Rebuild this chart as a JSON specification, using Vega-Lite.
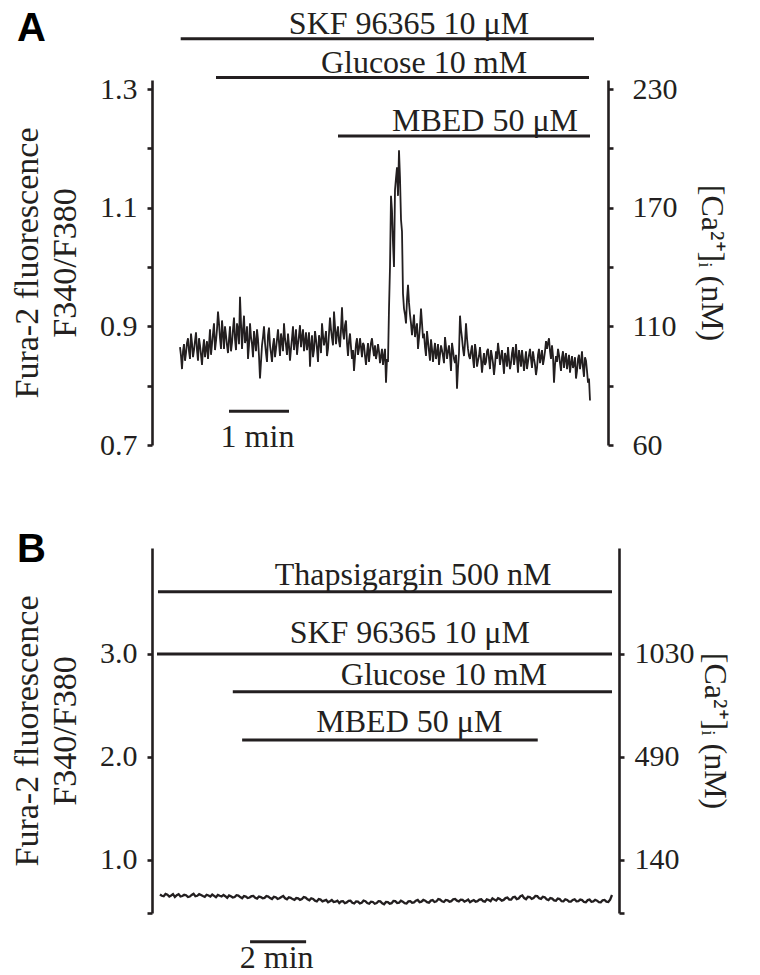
{
  "$schema": "https://vega.github.io/schema/vega-lite/v6.json",
  "background": "white",
  "padding": {"left": 10, "top": 7, "right": 5, "bottom": 5},
  "spacing": 70,
  "config": {
    "view": {"stroke": null},
    "font": "Liberation Serif",
    "axis": {
      "grid": false,
      "domainColor": "#231f20",
      "domainWidth": 2.6,
      "tickColor": "#231f20",
      "tickWidth": 2.6,
      "tickSize": 5,
      "labelFont": "Liberation Serif",
      "labelFontSize": 30,
      "labelColor": "#231f20",
      "labelFlush": false,
      "labelOverlap": false,
      "labelBaseline": "middle",
      "titleFont": "Liberation Serif",
      "titleFontWeight": "normal",
      "titleColor": "#231f20"
    }
  },
  "datasets": {
    "traceA": [
      {"t":28,"v":0.865},{"t":29,"v":0.850},{"t":30,"v":0.828},{"t":31,"v":0.858},{"t":32,"v":0.870},{"t":33,"v":0.842},{"t":34,"v":0.855},{"t":35,"v":0.872},{"t":36,"v":0.880},{"t":37,"v":0.858},
      {"t":38,"v":0.845},{"t":39,"v":0.888},{"t":40,"v":0.872},{"t":41,"v":0.848},{"t":42,"v":0.860},{"t":43,"v":0.875},{"t":44,"v":0.890},{"t":45,"v":0.860},{"t":46,"v":0.842},{"t":47,"v":0.880},
      {"t":48,"v":0.868},{"t":49,"v":0.852},{"t":50,"v":0.835},{"t":51,"v":0.862},{"t":52,"v":0.878},{"t":53,"v":0.848},{"t":54,"v":0.862},{"t":55,"v":0.875},{"t":56,"v":0.845},{"t":57,"v":0.868},
      {"t":58,"v":0.895},{"t":59,"v":0.852},{"t":60,"v":0.870},{"t":61,"v":0.888},{"t":62,"v":0.905},{"t":63,"v":0.860},{"t":64,"v":0.875},{"t":65,"v":0.895},{"t":66,"v":0.925},{"t":67,"v":0.905},
      {"t":68,"v":0.880},{"t":69,"v":0.862},{"t":70,"v":0.910},{"t":71,"v":0.888},{"t":72,"v":0.862},{"t":73,"v":0.900},{"t":74,"v":0.885},{"t":75,"v":0.868},{"t":76,"v":0.855},{"t":77,"v":0.878},
      {"t":78,"v":0.900},{"t":79,"v":0.858},{"t":80,"v":0.872},{"t":81,"v":0.895},{"t":82,"v":0.915},{"t":83,"v":0.878},{"t":84,"v":0.860},{"t":85,"v":0.905},{"t":86,"v":0.895},{"t":87,"v":0.870},
      {"t":88,"v":0.950},{"t":89,"v":0.905},{"t":90,"v":0.862},{"t":91,"v":0.895},{"t":92,"v":0.918},{"t":93,"v":0.872},{"t":94,"v":0.880},{"t":95,"v":0.900},{"t":96,"v":0.845},{"t":97,"v":0.868},
      {"t":98,"v":0.905},{"t":99,"v":0.882},{"t":100,"v":0.870},{"t":101,"v":0.848},{"t":102,"v":0.892},{"t":103,"v":0.875},{"t":104,"v":0.858},{"t":105,"v":0.895},{"t":106,"v":0.878},{"t":107,"v":0.850},
      {"t":108,"v":0.812},{"t":109,"v":0.840},{"t":110,"v":0.868},{"t":111,"v":0.882},{"t":112,"v":0.900},{"t":113,"v":0.872},{"t":114,"v":0.855},{"t":115,"v":0.840},{"t":116,"v":0.885},{"t":117,"v":0.898},
      {"t":118,"v":0.868},{"t":119,"v":0.855},{"t":120,"v":0.840},{"t":121,"v":0.868},{"t":122,"v":0.880},{"t":123,"v":0.848},{"t":124,"v":0.862},{"t":125,"v":0.878},{"t":126,"v":0.895},{"t":127,"v":0.872},
      {"t":128,"v":0.850},{"t":129,"v":0.888},{"t":130,"v":0.875},{"t":131,"v":0.858},{"t":132,"v":0.905},{"t":133,"v":0.880},{"t":134,"v":0.868},{"t":135,"v":0.852},{"t":136,"v":0.888},{"t":137,"v":0.868},
      {"t":138,"v":0.842},{"t":139,"v":0.862},{"t":140,"v":0.880},{"t":141,"v":0.900},{"t":142,"v":0.860},{"t":143,"v":0.875},{"t":144,"v":0.895},{"t":145,"v":0.852},{"t":146,"v":0.870},{"t":147,"v":0.885},
      {"t":148,"v":0.902},{"t":149,"v":0.865},{"t":150,"v":0.882},{"t":151,"v":0.895},{"t":152,"v":0.858},{"t":153,"v":0.875},{"t":154,"v":0.890},{"t":155,"v":0.860},{"t":156,"v":0.872},{"t":157,"v":0.890},
      {"t":158,"v":0.832},{"t":159,"v":0.868},{"t":160,"v":0.885},{"t":161,"v":0.848},{"t":162,"v":0.860},{"t":163,"v":0.892},{"t":164,"v":0.878},{"t":165,"v":0.862},{"t":166,"v":0.840},{"t":167,"v":0.885},
      {"t":168,"v":0.875},{"t":169,"v":0.855},{"t":170,"v":0.905},{"t":171,"v":0.885},{"t":172,"v":0.868},{"t":173,"v":0.878},{"t":174,"v":0.892},{"t":175,"v":0.850},{"t":176,"v":0.862},{"t":177,"v":0.888},
      {"t":178,"v":0.915},{"t":179,"v":0.895},{"t":180,"v":0.880},{"t":181,"v":0.868},{"t":182,"v":0.925},{"t":183,"v":0.900},{"t":184,"v":0.870},{"t":185,"v":0.888},{"t":186,"v":0.900},{"t":187,"v":0.875},
      {"t":188,"v":0.865},{"t":189,"v":0.895},{"t":190,"v":0.932},{"t":191,"v":0.890},{"t":192,"v":0.878},{"t":193,"v":0.902},{"t":194,"v":0.910},{"t":195,"v":0.872},{"t":196,"v":0.850},{"t":197,"v":0.875},
      {"t":198,"v":0.888},{"t":199,"v":0.865},{"t":200,"v":0.845},{"t":201,"v":0.860},{"t":202,"v":0.825},{"t":203,"v":0.848},{"t":204,"v":0.870},{"t":205,"v":0.880},{"t":206,"v":0.852},{"t":207,"v":0.862},
      {"t":208,"v":0.880},{"t":209,"v":0.865},{"t":210,"v":0.848},{"t":211,"v":0.872},{"t":212,"v":0.868},{"t":213,"v":0.850},{"t":214,"v":0.835},{"t":215,"v":0.855},{"t":216,"v":0.872},{"t":217,"v":0.840},
      {"t":218,"v":0.858},{"t":219,"v":0.872},{"t":220,"v":0.880},{"t":221,"v":0.862},{"t":222,"v":0.850},{"t":223,"v":0.868},{"t":224,"v":0.845},{"t":225,"v":0.855},{"t":226,"v":0.870},{"t":227,"v":0.858},
      {"t":228,"v":0.838},{"t":229,"v":0.850},{"t":230,"v":0.862},{"t":231,"v":0.835},{"t":232,"v":0.850},{"t":233,"v":0.862},{"t":234,"v":0.805},{"t":235,"v":0.845},{"t":236,"v":0.840},{"t":237,"v":0.930},
      {"t":238,"v":1.000},{"t":239,"v":1.120},{"t":240,"v":1.095},{"t":241,"v":1.040},{"t":242,"v":1.000},{"t":243,"v":1.130},{"t":244,"v":1.150},{"t":245,"v":1.168},{"t":246,"v":1.120},{"t":247,"v":1.197},
      {"t":248,"v":1.150},{"t":249,"v":1.080},{"t":250,"v":1.060},{"t":251,"v":0.955},{"t":252,"v":0.930},{"t":253,"v":0.920},{"t":254,"v":0.905},{"t":255,"v":0.945},{"t":256,"v":0.970},{"t":257,"v":0.940},
      {"t":258,"v":0.920},{"t":259,"v":0.905},{"t":260,"v":0.885},{"t":261,"v":0.902},{"t":262,"v":0.920},{"t":263,"v":0.882},{"t":264,"v":0.895},{"t":265,"v":0.905},{"t":266,"v":0.862},{"t":267,"v":0.880},
      {"t":268,"v":0.900},{"t":269,"v":0.930},{"t":270,"v":0.905},{"t":271,"v":0.880},{"t":272,"v":0.888},{"t":273,"v":0.865},{"t":274,"v":0.850},{"t":275,"v":0.892},{"t":276,"v":0.875},{"t":277,"v":0.858},
      {"t":278,"v":0.842},{"t":279,"v":0.878},{"t":280,"v":0.862},{"t":281,"v":0.840},{"t":282,"v":0.858},{"t":283,"v":0.872},{"t":284,"v":0.845},{"t":285,"v":0.855},{"t":286,"v":0.870},{"t":287,"v":0.835},
      {"t":288,"v":0.852},{"t":289,"v":0.868},{"t":290,"v":0.860},{"t":291,"v":0.850},{"t":292,"v":0.838},{"t":293,"v":0.882},{"t":294,"v":0.865},{"t":295,"v":0.845},{"t":296,"v":0.858},{"t":297,"v":0.868},
      {"t":298,"v":0.850},{"t":299,"v":0.825},{"t":300,"v":0.872},{"t":301,"v":0.860},{"t":302,"v":0.845},{"t":303,"v":0.838},{"t":304,"v":0.852},{"t":305,"v":0.795},{"t":306,"v":0.830},{"t":307,"v":0.855},
      {"t":308,"v":0.918},{"t":309,"v":0.895},{"t":310,"v":0.880},{"t":311,"v":0.862},{"t":312,"v":0.850},{"t":313,"v":0.872},{"t":314,"v":0.905},{"t":315,"v":0.880},{"t":316,"v":0.862},{"t":317,"v":0.850},
      {"t":318,"v":0.845},{"t":319,"v":0.858},{"t":320,"v":0.868},{"t":321,"v":0.845},{"t":322,"v":0.830},{"t":323,"v":0.870},{"t":324,"v":0.858},{"t":325,"v":0.832},{"t":326,"v":0.842},{"t":327,"v":0.850},
      {"t":328,"v":0.865},{"t":329,"v":0.845},{"t":330,"v":0.822},{"t":331,"v":0.840},{"t":332,"v":0.855},{"t":333,"v":0.835},{"t":334,"v":0.840},{"t":335,"v":0.858},{"t":336,"v":0.862},{"t":337,"v":0.845},
      {"t":338,"v":0.828},{"t":339,"v":0.860},{"t":340,"v":0.850},{"t":341,"v":0.838},{"t":342,"v":0.818},{"t":343,"v":0.835},{"t":344,"v":0.858},{"t":345,"v":0.845},{"t":346,"v":0.872},{"t":347,"v":0.858},
      {"t":348,"v":0.835},{"t":349,"v":0.848},{"t":350,"v":0.860},{"t":351,"v":0.840},{"t":352,"v":0.820},{"t":353,"v":0.855},{"t":354,"v":0.848},{"t":355,"v":0.832},{"t":356,"v":0.865},{"t":357,"v":0.845},
      {"t":358,"v":0.828},{"t":359,"v":0.838},{"t":360,"v":0.855},{"t":361,"v":0.865},{"t":362,"v":0.835},{"t":363,"v":0.848},{"t":364,"v":0.870},{"t":365,"v":0.845},{"t":366,"v":0.822},{"t":367,"v":0.860},
      {"t":368,"v":0.848},{"t":369,"v":0.832},{"t":370,"v":0.860},{"t":371,"v":0.845},{"t":372,"v":0.825},{"t":373,"v":0.842},{"t":374,"v":0.858},{"t":375,"v":0.828},{"t":376,"v":0.840},{"t":377,"v":0.852},
      {"t":378,"v":0.862},{"t":379,"v":0.845},{"t":380,"v":0.830},{"t":381,"v":0.858},{"t":382,"v":0.845},{"t":383,"v":0.835},{"t":384,"v":0.818},{"t":385,"v":0.830},{"t":386,"v":0.852},{"t":387,"v":0.862},
      {"t":388,"v":0.838},{"t":389,"v":0.848},{"t":390,"v":0.860},{"t":391,"v":0.835},{"t":392,"v":0.845},{"t":393,"v":0.858},{"t":394,"v":0.875},{"t":395,"v":0.862},{"t":396,"v":0.872},{"t":397,"v":0.880},
      {"t":398,"v":0.858},{"t":399,"v":0.845},{"t":400,"v":0.868},{"t":401,"v":0.850},{"t":402,"v":0.805},{"t":403,"v":0.835},{"t":404,"v":0.850},{"t":405,"v":0.840},{"t":406,"v":0.862},{"t":407,"v":0.852},
      {"t":408,"v":0.838},{"t":409,"v":0.825},{"t":410,"v":0.848},{"t":411,"v":0.858},{"t":412,"v":0.830},{"t":413,"v":0.845},{"t":414,"v":0.855},{"t":415,"v":0.828},{"t":416,"v":0.840},{"t":417,"v":0.852},
      {"t":418,"v":0.822},{"t":419,"v":0.838},{"t":420,"v":0.850},{"t":421,"v":0.830},{"t":422,"v":0.835},{"t":423,"v":0.848},{"t":424,"v":0.812},{"t":425,"v":0.825},{"t":426,"v":0.845},{"t":427,"v":0.852},
      {"t":428,"v":0.828},{"t":429,"v":0.840},{"t":430,"v":0.858},{"t":431,"v":0.830},{"t":432,"v":0.815},{"t":433,"v":0.848},{"t":434,"v":0.842},{"t":435,"v":0.825},{"t":436,"v":0.805},{"t":437,"v":0.812},
      {"t":438,"v":0.775}
    ],
    "barsA": [
      {"label":"SKF 96365 10 μM","start":28.7,"end":442,"lv":1.3847,"tx":257,"ty":1.393},
      {"label":"Glucose 10 mM","start":64,"end":437,"lv":1.3196,"tx":272,"ty":1.327},
      {"label":"MBED 50 μM","start":186,"end":438,"lv":1.2207,"tx":333,"ty":1.2286},
      {"label":"1 min","start":77,"end":137,"lv":0.757,"tx":105.5,"ty":0.697}
    ],
    "traceB": [
      {"t":17,"v":0.665},{"t":21,"v":0.652},{"t":25,"v":0.648},{"t":29,"v":0.670},{"t":33,"v":0.662},{"t":37,"v":0.645},{"t":41,"v":0.655},{"t":45,"v":0.668},{"t":49,"v":0.640},{"t":53,"v":0.658},
      {"t":57,"v":0.668},{"t":61,"v":0.645},{"t":65,"v":0.650},{"t":69,"v":0.662},{"t":73,"v":0.658},{"t":77,"v":0.640},{"t":81,"v":0.645},{"t":85,"v":0.660},{"t":89,"v":0.672},{"t":93,"v":0.648},
      {"t":97,"v":0.652},{"t":101,"v":0.668},{"t":105,"v":0.660},{"t":109,"v":0.650},{"t":113,"v":0.642},{"t":117,"v":0.662},{"t":121,"v":0.655},{"t":125,"v":0.645},{"t":129,"v":0.665},{"t":133,"v":0.652},
      {"t":137,"v":0.638},{"t":141,"v":0.660},{"t":145,"v":0.652},{"t":149,"v":0.645},{"t":153,"v":0.660},{"t":157,"v":0.648},{"t":161,"v":0.632},{"t":165,"v":0.655},{"t":169,"v":0.648},{"t":173,"v":0.635},
      {"t":177,"v":0.640},{"t":181,"v":0.658},{"t":185,"v":0.655},{"t":189,"v":0.640},{"t":193,"v":0.628},{"t":197,"v":0.650},{"t":201,"v":0.645},{"t":205,"v":0.630},{"t":209,"v":0.635},{"t":213,"v":0.648},
      {"t":217,"v":0.650},{"t":221,"v":0.632},{"t":225,"v":0.625},{"t":229,"v":0.645},{"t":233,"v":0.640},{"t":237,"v":0.628},{"t":241,"v":0.632},{"t":245,"v":0.650},{"t":249,"v":0.645},{"t":253,"v":0.630},
      {"t":257,"v":0.620},{"t":261,"v":0.642},{"t":265,"v":0.638},{"t":269,"v":0.622},{"t":273,"v":0.628},{"t":277,"v":0.640},{"t":281,"v":0.650},{"t":285,"v":0.628},{"t":289,"v":0.618},{"t":293,"v":0.638},
      {"t":297,"v":0.632},{"t":301,"v":0.620},{"t":305,"v":0.612},{"t":309,"v":0.630},{"t":313,"v":0.628},{"t":317,"v":0.612},{"t":321,"v":0.620},{"t":325,"v":0.640},{"t":329,"v":0.635},{"t":333,"v":0.618},
      {"t":337,"v":0.608},{"t":341,"v":0.628},{"t":345,"v":0.622},{"t":349,"v":0.605},{"t":353,"v":0.598},{"t":357,"v":0.620},{"t":361,"v":0.615},{"t":365,"v":0.598},{"t":369,"v":0.605},{"t":373,"v":0.612},
      {"t":377,"v":0.590},{"t":381,"v":0.600},{"t":385,"v":0.612},{"t":389,"v":0.592},{"t":393,"v":0.595},{"t":397,"v":0.605},{"t":401,"v":0.582},{"t":405,"v":0.598},{"t":409,"v":0.600},{"t":413,"v":0.580},
      {"t":417,"v":0.588},{"t":421,"v":0.602},{"t":425,"v":0.605},{"t":429,"v":0.585},{"t":433,"v":0.578},{"t":437,"v":0.598},{"t":441,"v":0.595},{"t":445,"v":0.578},{"t":449,"v":0.585},{"t":453,"v":0.605},
      {"t":457,"v":0.600},{"t":461,"v":0.582},{"t":465,"v":0.575},{"t":469,"v":0.595},{"t":473,"v":0.592},{"t":477,"v":0.575},{"t":481,"v":0.582},{"t":485,"v":0.600},{"t":489,"v":0.598},{"t":493,"v":0.580},
      {"t":497,"v":0.570},{"t":501,"v":0.592},{"t":505,"v":0.590},{"t":509,"v":0.575},{"t":513,"v":0.580},{"t":517,"v":0.602},{"t":521,"v":0.600},{"t":525,"v":0.582},{"t":529,"v":0.585},{"t":533,"v":0.605},
      {"t":537,"v":0.595},{"t":541,"v":0.580},{"t":545,"v":0.578},{"t":549,"v":0.598},{"t":553,"v":0.600},{"t":557,"v":0.585},{"t":561,"v":0.588},{"t":565,"v":0.605},{"t":569,"v":0.612},{"t":573,"v":0.590},
      {"t":577,"v":0.595},{"t":581,"v":0.612},{"t":585,"v":0.605},{"t":589,"v":0.590},{"t":593,"v":0.585},{"t":597,"v":0.605},{"t":601,"v":0.610},{"t":605,"v":0.592},{"t":609,"v":0.598},{"t":613,"v":0.620},
      {"t":617,"v":0.615},{"t":621,"v":0.598},{"t":625,"v":0.592},{"t":629,"v":0.612},{"t":633,"v":0.608},{"t":637,"v":0.595},{"t":641,"v":0.600},{"t":645,"v":0.618},{"t":649,"v":0.622},{"t":653,"v":0.605},
      {"t":657,"v":0.598},{"t":661,"v":0.615},{"t":665,"v":0.612},{"t":669,"v":0.595},{"t":673,"v":0.605},{"t":677,"v":0.615},{"t":681,"v":0.590},{"t":685,"v":0.602},{"t":689,"v":0.610},{"t":693,"v":0.595},
      {"t":697,"v":0.600},{"t":701,"v":0.615},{"t":705,"v":0.618},{"t":709,"v":0.600},{"t":713,"v":0.595},{"t":717,"v":0.618},{"t":721,"v":0.612},{"t":725,"v":0.600},{"t":729,"v":0.628},{"t":733,"v":0.615},
      {"t":737,"v":0.605},{"t":741,"v":0.628},{"t":745,"v":0.620},{"t":749,"v":0.605},{"t":753,"v":0.612},{"t":757,"v":0.630},{"t":761,"v":0.635},{"t":765,"v":0.615},{"t":769,"v":0.615},{"t":773,"v":0.638},
      {"t":777,"v":0.642},{"t":781,"v":0.620},{"t":785,"v":0.625},{"t":789,"v":0.648},{"t":793,"v":0.655},{"t":797,"v":0.630},{"t":801,"v":0.618},{"t":805,"v":0.642},{"t":809,"v":0.640},{"t":813,"v":0.622},
      {"t":817,"v":0.630},{"t":821,"v":0.650},{"t":825,"v":0.648},{"t":829,"v":0.628},{"t":833,"v":0.622},{"t":837,"v":0.642},{"t":841,"v":0.638},{"t":845,"v":0.618},{"t":849,"v":0.610},{"t":853,"v":0.630},
      {"t":857,"v":0.625},{"t":861,"v":0.608},{"t":865,"v":0.605},{"t":869,"v":0.625},{"t":873,"v":0.620},{"t":877,"v":0.600},{"t":881,"v":0.598},{"t":885,"v":0.618},{"t":889,"v":0.612},{"t":893,"v":0.595},
      {"t":897,"v":0.595},{"t":901,"v":0.612},{"t":905,"v":0.618},{"t":909,"v":0.598},{"t":913,"v":0.600},{"t":917,"v":0.615},{"t":921,"v":0.610},{"t":925,"v":0.592},{"t":929,"v":0.590},{"t":933,"v":0.610},
      {"t":937,"v":0.615},{"t":941,"v":0.595},{"t":945,"v":0.598},{"t":949,"v":0.612},{"t":953,"v":0.605},{"t":957,"v":0.590},{"t":961,"v":0.588},{"t":965,"v":0.608},{"t":969,"v":0.612},{"t":973,"v":0.595},
      {"t":977,"v":0.592},{"t":981,"v":0.615},{"t":985,"v":0.660}
    ],
    "barsB": [
      {"label":"Thapsigargin 500 nM","start":12.8,"end":985,"lv":3.605,"tx":559,"ty":3.67},
      {"label":"SKF 96365 10 μM","start":10.7,"end":985,"lv":3.0,"tx":552,"ty":3.103},
      {"label":"Glucose 10 mM","start":173,"end":985,"lv":2.634,"tx":625,"ty":2.699},
      {"label":"MBED 50 μM","start":193,"end":826,"lv":2.165,"tx":551,"ty":2.246},
      {"label":"2 min","start":210,"end":330,"lv":0.207,"tx":267,"ty":-0.049}
    ]
  },
  "vconcat": [
    {
      "width": 456,
      "height": 365,
      "title": {"text": "A", "anchor": "start", "frame": "group", "font": "Liberation Sans", "fontWeight": "bold", "fontSize": 40, "color": "#000000", "dx": -135, "dy": 45},
      "resolve": {"scale": {"y": "independent"}},
      "layer": [
        {
          "data": {"name": "traceA"},
          "mark": {"type": "line", "color": "#231f20", "strokeWidth": 1.8},
          "encoding": {
            "x": {"field": "t", "type": "quantitative", "scale": {"domain": [0, 456], "nice": false, "zero": false}, "axis": null},
            "y": {"field": "v", "type": "quantitative", "scale": {"domain": [0.7, 1.3153], "nice": false, "zero": false},
              "axis": {"orient": "left", "values": [0.7, 0.8, 0.9, 1.0, 1.1, 1.2, 1.3], "labelPadding": 10,
                "labelExpr": "indexof([7, 9, 11, 13], round(datum.value * 10)) >= 0 ? format(datum.value, '.1f') : ''",
                "title": ["Fura-2 fluorescence", "F340/F380"], "titleFontSize": 34, "titleLineHeight": 38, "titlePadding": 17}}
          }
        },
        {
          "data": {"name": "barsA"},
          "mark": {"type": "rule", "color": "#231f20", "strokeWidth": 3},
          "encoding": {
            "x": {"field": "start", "type": "quantitative", "scale": {"domain": [0, 456], "nice": false, "zero": false}, "axis": null},
            "x2": {"field": "end"},
            "y": {"field": "lv", "type": "quantitative", "scale": {"domain": [0.7, 1.3153], "nice": false, "zero": false},
              "axis": {"orient": "right", "values": [0.7, 0.8, 0.9, 1.0, 1.1, 1.2, 1.3], "labelPadding": 19,
                "labelExpr": "round(datum.value * 10) == 7 ? '60' : round(datum.value * 10) == 9 ? '110' : round(datum.value * 10) == 11 ? '170' : round(datum.value * 10) == 13 ? '230' : ''",
                "title": "[Ca²⁺]ᵢ (nM)", "titleFontSize": 32, "titlePadding": 17}}
          }
        },
        {
          "data": {"name": "barsA"},
          "mark": {"type": "text", "color": "#231f20", "fontSize": 32, "font": "Liberation Serif", "baseline": "alphabetic", "align": "center"},
          "encoding": {
            "x": {"field": "tx", "type": "quantitative", "scale": {"domain": [0, 456], "nice": false, "zero": false}, "axis": null},
            "y": {"field": "ty", "type": "quantitative", "scale": {"domain": [0.7, 1.3153], "nice": false, "zero": false}, "axis": null},
            "text": {"field": "label"}
          }
        }
      ]
    },
    {
      "width": 467,
      "height": 365,
      "title": {"text": "B", "anchor": "start", "frame": "group", "font": "Liberation Sans", "fontWeight": "bold", "fontSize": 40, "color": "#000000", "dx": -135, "dy": 26},
      "resolve": {"scale": {"y": "independent"}},
      "layer": [
        {
          "data": {"name": "traceB"},
          "mark": {"type": "line", "color": "#231f20", "strokeWidth": 2.3},
          "encoding": {
            "x": {"field": "t", "type": "quantitative", "scale": {"domain": [0, 1000], "nice": false, "zero": false}, "axis": null},
            "y": {"field": "v", "type": "quantitative", "scale": {"domain": [0.485, 4.029], "nice": false, "zero": false},
              "axis": {"orient": "left", "values": [0.485, 1, 2, 3], "labelPadding": 10,
                "labelExpr": "datum.value >= 1 ? format(datum.value, '.1f') : ''",
                "title": ["Fura-2 fluorescence", "F340/F380"], "titleFontSize": 34, "titleLineHeight": 38, "titlePadding": 17}}
          }
        },
        {
          "data": {"name": "barsB"},
          "mark": {"type": "rule", "color": "#231f20", "strokeWidth": 3},
          "encoding": {
            "x": {"field": "start", "type": "quantitative", "scale": {"domain": [0, 1000], "nice": false, "zero": false}, "axis": null},
            "x2": {"field": "end"},
            "y": {"field": "lv", "type": "quantitative", "scale": {"domain": [0.485, 4.029], "nice": false, "zero": false},
              "axis": {"orient": "right", "values": [0.485, 1, 2, 3], "labelPadding": 10,
                "labelExpr": "datum.value == 1 ? '140' : datum.value == 2 ? '490' : datum.value == 3 ? '1030' : ''",
                "title": "[Ca²⁺]ᵢ (nM)", "titleFontSize": 32, "titlePadding": 3}}
          }
        },
        {
          "data": {"name": "barsB"},
          "mark": {"type": "text", "color": "#231f20", "fontSize": 32, "font": "Liberation Serif", "baseline": "alphabetic", "align": "center"},
          "encoding": {
            "x": {"field": "tx", "type": "quantitative", "scale": {"domain": [0, 1000], "nice": false, "zero": false}, "axis": null},
            "y": {"field": "ty", "type": "quantitative", "scale": {"domain": [0.485, 4.029], "nice": false, "zero": false}, "axis": null},
            "text": {"field": "label"}
          }
        }
      ]
    }
  ]
}
